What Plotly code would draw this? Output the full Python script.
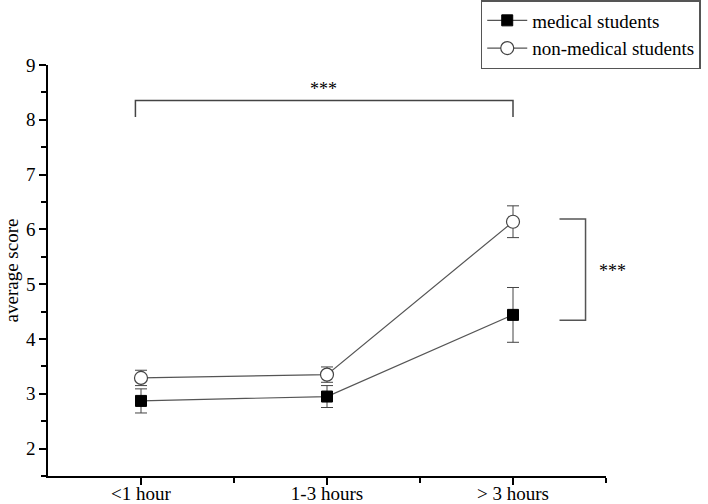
import plotly.graph_objects as go

categories = ["<1 hour", "1-3 hours", "> 3 hours"]
x_pos = [1, 2, 3]
medical = [2.87, 2.95, 4.44]
medical_err = [0.22, 0.2, 0.5]
nonmedical = [3.29, 3.35, 6.14]
nonmedical_err = [0.14, 0.14, 0.29]

FONT = "Liberation Serif"
LINE = "#555555"

fig = go.Figure()
fig.add_trace(go.Scatter(
    x=x_pos, y=medical, name="medical students", mode="lines+markers",
    line=dict(color=LINE, width=1.2),
    marker=dict(symbol="square", size=11, color="black", line=dict(color="black", width=1)),
    error_y=dict(type="data", array=medical_err, color="#444444", thickness=1, width=6),
))
fig.add_trace(go.Scatter(
    x=x_pos, y=nonmedical, name="non-medical students", mode="lines+markers",
    line=dict(color=LINE, width=1.2),
    marker=dict(symbol="circle", size=13, color="white", line=dict(color="#444444", width=1.2)),
    error_y=dict(type="data", array=nonmedical_err, color="#444444", thickness=1, width=6),
))

# significance brackets
fig.add_shape(type="path", path="M 0.97 8.05 L 0.97 8.35 L 3.0 8.35 L 3.0 8.05",
              xref="x", yref="y", line=dict(color="#444444", width=1.5))
fig.add_annotation(x=1.98, y=8.35, text="***", showarrow=False, yanchor="bottom",
                   font=dict(family=FONT, size=18, color="#000000"), yshift=0)
fig.add_shape(type="path", path="M 3.25 6.19 L 3.39 6.19 L 3.39 4.34 L 3.25 4.34",
              xref="x", yref="y", line=dict(color="#555555", width=1.5))
fig.add_annotation(x=3.45, y=5.25, text="***", showarrow=False, xanchor="left",
                   font=dict(family=FONT, size=18, color="#000000"))

fig.update_layout(
    width=708, height=504,
    margin=dict(l=48, r=102, t=65, b=28, autoexpand=False),
    plot_bgcolor="white", paper_bgcolor="white",
    font=dict(family=FONT, size=19, color="black"),
    showlegend=True,
    legend=dict(xref="container", yref="container", x=0.679, y=1.036,
                xanchor="left", yanchor="top",
                bordercolor="#555555", borderwidth=1.5, bgcolor="white",
                font=dict(family=FONT, size=19), tracegroupgap=0,
                itemwidth=40),
    xaxis=dict(range=[0.5, 3.5], tickvals=x_pos, ticktext=categories,
               showline=True, linecolor="black", linewidth=1.5, mirror=False,
               ticks="outside", ticklen=7, tickwidth=1.5, tickcolor="black",
               ticklabelstandoff=-8,
               showgrid=False, zeroline=False,
               minor=dict(tickvals=[1.5, 2.5, 3.5], ticks="outside", ticklen=5, tickwidth=1.5, tickcolor="black")),
    yaxis=dict(range=[1.5, 9], tickvals=[2, 3, 4, 5, 6, 7, 8, 9],
               title=dict(text="average score", font=dict(family=FONT, size=19), standoff=2),
               showline=True, linecolor="black", linewidth=1.5,
               ticks="outside", ticklen=7, tickwidth=1.5, tickcolor="black",
               showgrid=False, zeroline=False,
               minor=dict(tickvals=[1.5, 2.5, 3.5, 4.5, 5.5, 6.5, 7.5, 8.5], ticks="outside", ticklen=5, tickwidth=1.5, tickcolor="black")),
)

fig.write_html("out.html", config={"displayModeBar": False},
               post_script="document.body.style.margin='0';document.body.style.overflow='hidden';")
